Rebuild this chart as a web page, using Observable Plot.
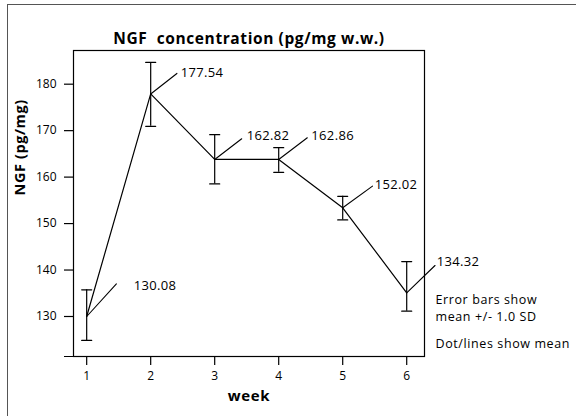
<!DOCTYPE html>
<html>
<head>
<meta charset="utf-8">
<script src="https://cdn.jsdelivr.net/npm/d3@7"></script>
<script src="https://cdn.jsdelivr.net/npm/@observablehq/plot@0.6"></script>
<style>
  html, body { margin: 0; padding: 0; background: #fff; }
  #wrap { position: relative; width: 576px; height: 416px; overflow: hidden; }
  #border { position: absolute; left: 7px; top: 4px; width: 600px; height: 440px;
            border: 1.5px solid #555; pointer-events: none; box-sizing: border-box; }
  svg text { white-space: pre; }
  svg g[font-weight="bold"] text { letter-spacing: 0.6px; }
  svg g[font-size="13"] text { letter-spacing: 0.35px; }
  svg g[font-size="12.5"] text { letter-spacing: 0.6px; }
</style>
</head>
<body>
<div id="wrap"><div id="chart"></div><div id="border"></div></div>
<script>
// ---- data ----
const weeks = [1, 2, 3, 4, 5, 6];
const means = [130.0, 177.9, 163.8, 163.8, 153.4, 135.1];      // plotted mean positions
const sdLow = [124.84, 170.93, 158.54, 161.03, 150.78, 131.14]; // mean - 1 SD
const sdHigh = [135.74, 184.69, 169.14, 166.34, 155.87, 141.83]; // mean + 1 SD
const valueLabels = ["130.08", "177.54", "162.82", "162.86", "152.02", "134.32"];
const yTicks = [130, 140, 150, 160, 170, 180];
const titleText = "NGF  concentration (pg/mg w.w.)";
const xTitle = "week";
const yTitle = "NGF (pg/mg)";
const noteLines = ["Error bars show", "mean +/- 1.0 SD", "Dot/lines show mean"];

const rows = weeks.map((w, i) => ({week: w, mean: means[i], lo: sdLow[i], hi: sdHigh[i], label: valueLabels[i]}));

// annotation layout (pixel offsets of leader ends and labels from each mean point)
const leaderPx = [[29.7, -32.7], [26.2, -20.5], [27, -20.7], [28.6, -21.7], [29.8, -21.6], [28.3, -27.3]];
const labelPx = [[47, -31], [30, -21], [32, -24], [32.6, -24], [32, -23], [30, -31]];

const lineShape = {draw(ctx, l) { ctx.moveTo(0, 0); ctx.lineTo(0, -l); }};
const capShape = {draw(ctx, l) { ctx.moveTo(0, l / 2); ctx.lineTo(0, -l / 2); }};

const FONT = "'Open Sans', Lato, sans-serif";

const marks = [
  Plot.frame({stroke: "#000", strokeWidth: 1.2}),
  Plot.ruleY([121.39], {stroke: "#000", strokeWidth: 1.2, insetLeft: -9}),
  Plot.axisX({ticks: weeks, tickSize: 9, tickPadding: 6, tickFormat: d => String(d), fontSize: 12, label: null, strokeWidth: 1.2}),
  Plot.axisY({ticks: yTicks, tickSize: 9, tickPadding: 8, fontSize: 12, label: null, strokeWidth: 1.2}),
  Plot.ruleX(rows, {x: "week", y1: "lo", y2: "hi", stroke: "#000", strokeWidth: 1.2}),
  Plot.vector(rows, {x: "week", y: "lo", length: 10, rotate: 90, anchor: "start", shape: capShape, stroke: "#000", strokeWidth: 1.2}),
  Plot.vector(rows, {x: "week", y: "hi", length: 10, rotate: 90, anchor: "start", shape: capShape, stroke: "#000", strokeWidth: 1.2}),
  Plot.line(rows, {x: "week", y: "mean", stroke: "#000", strokeWidth: 1.2}),
  ...rows.map((r, i) => {
    const [dx, dy] = leaderPx[i];
    return Plot.vector([r], {x: "week", y: "mean", length: Math.hypot(dx, dy),
      rotate: Math.atan2(dx, -dy) * 180 / Math.PI, anchor: "start", shape: lineShape, stroke: "#000", strokeWidth: 1.1});
  }),
  ...rows.map((r, i) => Plot.text([r], {x: "week", y: "mean", text: "label", dx: labelPx[i][0], dy: labelPx[i][1],
      textAnchor: "start", fontSize: 13, fill: "#000"})),
  Plot.text([titleText], {frameAnchor: "top", dy: -18, fontWeight: "bold", fontSize: 15.5, fill: "#000"}),
  Plot.text([xTitle], {frameAnchor: "bottom", dy: 44, fontWeight: "bold", fontSize: 15, fill: "#000"}),
  Plot.text([yTitle], {frameAnchor: "left", dx: -53, dy: -8, rotate: -90, fontWeight: "bold", fontSize: 14.5, fill: "#000"}),
  Plot.text([noteLines[0]], {frameAnchor: "bottom-right", dx: 11, dy: -53, textAnchor: "start", fontSize: 12.5, fill: "#000"}),
  Plot.text([noteLines[1]], {frameAnchor: "bottom-right", dx: 11, dy: -35.5, textAnchor: "start", fontSize: 12.5, fill: "#000"}),
  Plot.text([noteLines[2]], {frameAnchor: "bottom-right", dx: 11, dy: -9, textAnchor: "start", fontSize: 12.5, fill: "#000"})
];

const chart = Plot.plot({
  width: 576,
  height: 416,
  marginLeft: 73,
  marginTop: 50,
  marginRight: 152,
  marginBottom: 60,
  x: {domain: [0.794, 6.278]},
  y: {domain: [121.39, 187.25]},
  style: {fontFamily: FONT, fontSize: "12px", color: "#000", background: "#fff", overflow: "visible"},
  marks
});
document.getElementById("chart").appendChild(chart);
</script>
</body>
</html>
